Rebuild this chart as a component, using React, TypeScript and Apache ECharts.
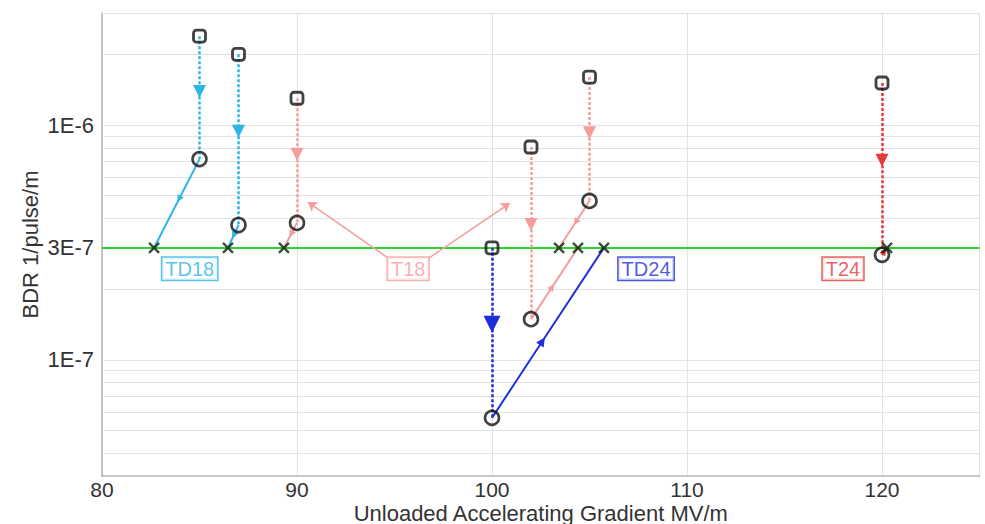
import React, { useEffect, useRef } from 'react';
import * as echarts from 'echarts';

// ---- data ----
const structures = ['TD18', 'TD18', 'T18', 'T18', 'T18', 'TD24', 'T24'];
const gradientTested = [85, 87, 90, 102, 105, 100, 120];
const bdrInitial = [2.39e-6, 2.0e-6, 1.3e-6, 8.06e-7, 1.6e-6, 3.0e-7, 1.51e-6];
const bdrConditioned = [7.16e-7, 3.75e-7, 3.83e-7, 1.49e-7, 4.75e-7, 5.66e-8, 2.8e-7];
const gradientScaled = [82.67, 86.46, 89.33, 104.41, 103.44, 105.74, 120.26];
const targetBDR = 3e-7;

const labelNames = ['TD18', 'T18', 'TD24', 'T24'];
const labelGradient = [84.5, 95.7, 107.9, 118.0];
const labelBDR = [2.44e-7, 2.44e-7, 2.44e-7, 2.44e-7];

const t18PointerFrom = [[94.6, 2.74e-7], [96.7, 2.69e-7]];
const t18PointerTo = [[90.56, 4.7e-7], [100.92, 4.65e-7]];

const bdrGridValues = [
  4e-8, 5e-8, 6e-8, 7e-8, 8e-8, 9e-8,
  1e-7, 2e-7, 4e-7, 5e-7, 6e-7, 7e-7, 8e-7, 9e-7,
  1e-6, 2e-6, 3e-6,
];

const colorOf: Record<string, string> = {
  TD18: '#2fb4e6',
  T18: '#f59c9c',
  TD24: '#1f2fd8',
  T24: '#e43a3a',
};

const FONT = '"Liberation Sans", Arial, Helvetica, sans-serif';

function along(a: number[], b: number[], t: number): number[] {
  const la = Math.log10(a[1]);
  const lb = Math.log10(b[1]);
  return [a[0] + (b[0] - a[0]) * t, Math.pow(10, la + (lb - la) * t)];
}

function buildOption() {
  const series: any[] = [];

  // minor log grid lines + target BDR line (hosted on invisible line series)
  series.push({
    type: 'line',
    data: [[gradientTested[0], targetBDR]],
    symbol: 'none',
    silent: true,
    z: 0,
    lineStyle: { width: 0, opacity: 0 },
    markLine: {
      silent: true,
      z: 1,
      precision: 20,
      symbol: 'none',
      animation: false,
      label: { show: false },
      lineStyle: { color: '#e3e3e3', width: 1, type: 'solid' },
      data: bdrGridValues.map((v) => ({ yAxis: v })),
    },
  });
  series.push({
    type: 'line',
    data: [[gradientTested[0], targetBDR]],
    symbol: 'none',
    silent: true,
    z: 1,
    lineStyle: { width: 0, opacity: 0 },
    markLine: {
      silent: true,
      z: 2,
      precision: 20,
      symbol: 'none',
      animation: false,
      lineStyle: { color: '#2ed22e', width: 2, type: 'solid' },
      label: {
        show: true,
        position: 'start',
        formatter: '3E-7',
        fontSize: 22,
        color: '#333',
        distance: 8,
        fontFamily: FONT,
      },
      data: [{ yAxis: targetBDR }],
    },
  });

  labelNames.forEach((name) => {
    const idx = structures.map((s, i) => (s === name ? i : -1)).filter((i) => i >= 0);
    const color = colorOf[name];
    const big = name === 'TD24';
    // dotted: initial -> conditioned
    series.push({
      type: 'lines',
      coordinateSystem: 'cartesian2d',
      silent: true,
      z: 3,
      lineStyle: { color, width: 2.5, type: [3, 2], opacity: 1 },
      symbol: 'none',
      data: idx.flatMap((i) => {
        const a = [gradientTested[i], bdrInitial[i]];
        const b = [gradientTested[i], bdrConditioned[i]];
        const m = along(a, b, 0.45);
        return [
          { coords: [a, m], symbol: ['none', 'triangle'], symbolSize: big ? 17 : 13 },
          { coords: [m, b] },
        ];
      }),
    });
    // solid: conditioned -> scaled to target
    series.push({
      type: 'lines',
      coordinateSystem: 'cartesian2d',
      silent: true,
      z: 3,
      lineStyle: { color, width: 2, type: 'solid', opacity: 1 },
      symbol: 'none',
      data: idx.flatMap((i) => {
        const a = [gradientTested[i], bdrConditioned[i]];
        const b = [gradientScaled[i], targetBDR];
        const m = along(a, b, 0.45);
        return [
          { coords: [a, m], symbol: ['none', 'triangle'], symbolSize: big ? 9 : 7 },
          { coords: [m, b] },
        ];
      }),
    });
  });

  // T18 pointers
  series.push({
    type: 'lines',
    coordinateSystem: 'cartesian2d',
    silent: true,
    z: 3,
    lineStyle: { color: colorOf.T18, width: 1.5, type: 'solid', opacity: 1 },
    symbol: ['none', 'arrow'],
    symbolSize: 9,
    data: t18PointerFrom.map((f, i) => ({ coords: [f, t18PointerTo[i]] })),
  });

  // markers
  series.push({
    type: 'scatter',
    z: 5,
    silent: true,
    symbol: 'roundRect',
    symbolSize: 12,
    itemStyle: { color: 'rgba(255,255,255,0)', borderColor: '#111', borderWidth: 2.8 },
    data: gradientTested.map((x, i) => [x, bdrInitial[i]]),
  });
  series.push({
    type: 'scatter',
    z: 5,
    silent: true,
    symbol: 'circle',
    symbolSize: 14,
    itemStyle: { color: 'rgba(255,255,255,0)', borderColor: '#111', borderWidth: 2.6 },
    data: gradientTested.map((x, i) => [x, bdrConditioned[i]]),
  });
  series.push({
    type: 'scatter',
    z: 5,
    silent: true,
    symbol: 'path://M0,0L10,10M10,0L0,10',
    symbolSize: 10,
    itemStyle: { color: 'none', borderColor: '#0f1f0f', borderWidth: 2.4 },
    data: gradientScaled.map((x) => [x, targetBDR]),
  });

  // structure labels
  series.push({
    type: 'scatter',
    z: 6,
    silent: true,
    symbolSize: 1,
    itemStyle: { color: 'rgba(0,0,0,0)' },
    label: {
      show: true,
      position: 'inside',
      formatter: '{b}',
      fontSize: 20,
      fontFamily: FONT,
      backgroundColor: '#fff',
      borderWidth: 1.5,
      padding: [2, 3, 0, 3],
    },
    data: labelNames.map((n, i) => ({
      name: n,
      value: [labelGradient[i], labelBDR[i]],
      label: { color: colorOf[n], borderColor: colorOf[n] },
    })),
  });

  return {
    animation: false,
    backgroundColor: '#ffffff',
    grid: {
      left: 102,
      right: 5.5,
      top: 13,
      bottom: 48,
      containLabel: false,
      outerBoundsMode: 'none',
    },
    xAxis: {
      type: 'value',
      min: 80,
      max: 125,
      interval: 10,
      name: 'Unloaded Accelerating Gradient MV/m',
      nameLocation: 'middle',
      nameGap: 26,
      nameMoveOverlap: false,
      nameTextStyle: { fontSize: 22, lineHeight: 22, color: '#333', fontFamily: FONT },
      axisLine: { show: true, lineStyle: { color: '#b5b5b5', width: 1.5 } },
      axisTick: { show: false },
      axisLabel: {
        fontSize: 21,
        lineHeight: 20,
        color: '#333',
        fontFamily: FONT,
        margin: 3,
        formatter: (v: number) => (v % 10 === 0 ? String(v) : ''),
      },
      splitLine: { show: true, lineStyle: { color: '#e3e3e3', width: 1 } },
    },
    yAxis: {
      type: 'log',
      logBase: 10,
      min: 3.2e-8,
      max: 3e-6,
      name: 'BDR 1/pulse/m',
      nameLocation: 'middle',
      nameRotate: 90,
      nameGap: 61,
      nameMoveOverlap: false,
      nameTextStyle: { fontSize: 22, color: '#333', fontFamily: FONT },
      axisLine: { show: true, lineStyle: { color: '#b5b5b5', width: 1.5 } },
      axisTick: { show: false },
      splitLine: { show: false },
      axisLabel: {
        fontSize: 22,
        color: '#333',
        fontFamily: FONT,
        margin: 8,
        formatter: (v: number) => {
          const e = Math.log10(v);
          return Math.abs(e - Math.round(e)) < 1e-6 ? `1E${Math.round(e)}` : '';
        },
      },
    },
    series,
  };
}

export default function App() {
  const ref = useRef<HTMLDivElement>(null);
  useEffect(() => {
    if (!ref.current) return;
    const chart = echarts.init(ref.current, undefined, { renderer: 'svg' });
    chart.setOption(buildOption() as any);
    return () => chart.dispose();
  }, []);
  return (
    <div
      ref={ref}
      style={{ position: 'fixed', left: 0, top: 0, width: 985, height: 524, background: '#fff' }}
    />
  );
}
